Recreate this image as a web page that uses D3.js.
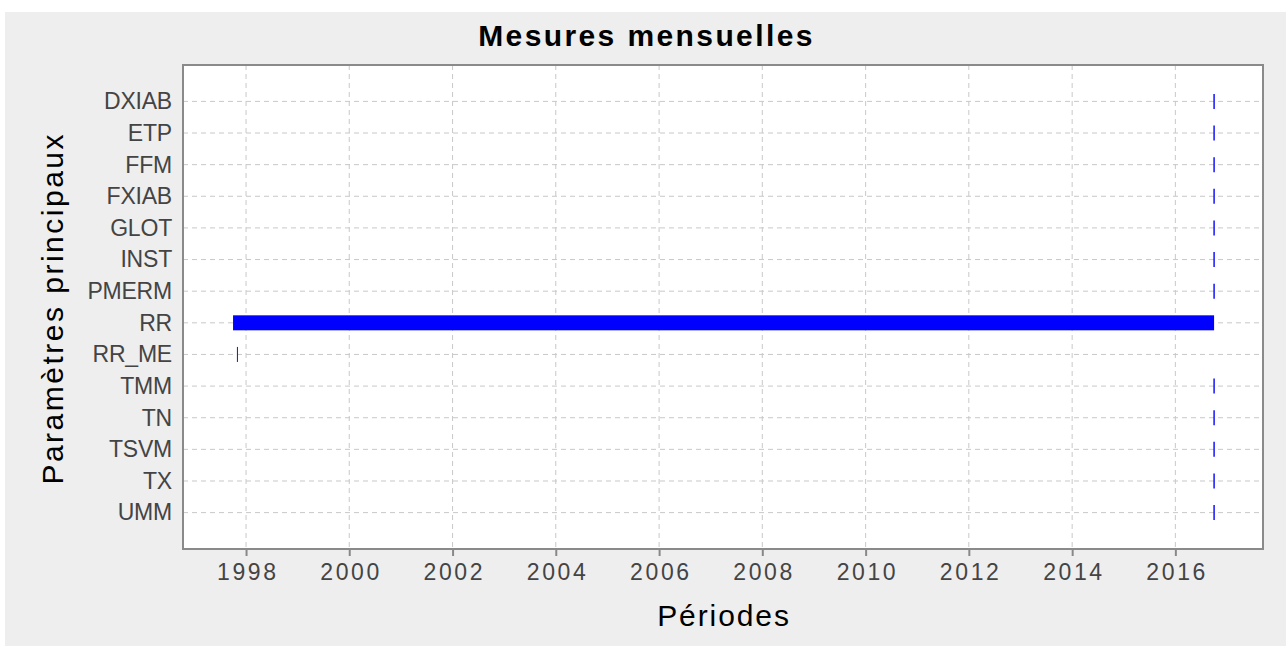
<!DOCTYPE html>
<html>
<head>
<meta charset="utf-8">
<script src="https://cdn.jsdelivr.net/npm/d3@7"></script>
<style>
  body { margin: 0; background: #fff; }
  #container { width: 1286px; height: 646px; }
  text { font-family: "Liberation Sans", Arial, sans-serif; }
</style>
</head>
<body>
<div id="container"></div>
<script>
// data
const params = ["DXIAB","ETP","FFM","FXIAB","GLOT","INST","PMERM","RR","RR_ME","TMM","TN","TSVM","TX","UMM"];
const starts = ["2016-10","2016-10","2016-10","2016-10","2016-10","2016-10","2016-10","1997-10","1997-11","2016-10","2016-10","2016-10","2016-10","2016-10"];
const ends   = ["2016-10","2016-10","2016-10","2016-10","2016-10","2016-10","2016-10","2016-10","1997-11","2016-10","2016-10","2016-10","2016-10","2016-10"];
const tickYears = [1998,2000,2002,2004,2006,2008,2010,2012,2014,2016];
const xDomain = ["1996-10-12","2017-09-12"];

document.addEventListener("DOMContentLoaded",() => {
  makeChart();
});

function makeChart(){
  const w = 1286;
  const h = 646;
  const left = 183, right = 1263, top = 65, bottom = 549;
  const parse = d3.timeParse("%Y-%m");
  const parseDay = d3.timeParse("%Y-%m-%d");

  const dataset = params.map((p,i) => ({name: p, start: parse(starts[i]), end: parse(ends[i])}));

  const xScale = d3.scaleTime()
                   .domain(xDomain.map(parseDay))
                   .range([left,right]);

  const yScale = d3.scalePoint()
                   .domain(params)
                   .range([top,bottom])
                   .padding(1.15);

  let svg = d3.select("#container")
              .append("svg")
              .attr("width",w)
              .attr("height",h);

  svg.append("rect")
     .attr("x",5).attr("y",12)
     .attr("width",w - 5).attr("height",h - 12)
     .attr("fill","#eeeeee");

  svg.append("rect")
     .attr("x",left).attr("y",top)
     .attr("width",right - left).attr("height",bottom - top)
     .attr("fill","#ffffff");

  // grid
  const tickDates = tickYears.map((y) => new Date(y,0,1));
  svg.append("g")
     .selectAll("line")
     .data(tickDates)
     .enter()
     .append("line")
     .attr("x1",(d) => xScale(d)).attr("x2",(d) => xScale(d))
     .attr("y1",top).attr("y2",bottom)
     .attr("stroke","#c8c8c8")
     .attr("stroke-width",1)
     .attr("stroke-dasharray","5,4");

  svg.append("g")
     .selectAll("line")
     .data(params)
     .enter()
     .append("line")
     .attr("x1",left).attr("x2",right)
     .attr("y1",(d) => yScale(d)).attr("y2",(d) => yScale(d))
     .attr("stroke","#c8c8c8")
     .attr("stroke-width",1)
     .attr("stroke-dasharray","5,4");

  // bars
  const barH = 15;
  svg.append("g")
     .selectAll("rect")
     .data(dataset.filter((d) => d.end > d.start))
     .enter()
     .append("rect")
     .attr("x",(d) => xScale(d.start))
     .attr("y",(d) => yScale(d.name) - barH / 2)
     .attr("width",(d) => xScale(d.end) - xScale(d.start))
     .attr("height",barH)
     .attr("fill","#0000ff");

  svg.append("g")
     .selectAll("line")
     .data(dataset.filter((d) => +d.end === +d.start))
     .enter()
     .append("line")
     .attr("x1",(d) => xScale(d.start)).attr("x2",(d) => xScale(d.start))
     .attr("y1",(d) => yScale(d.name) - barH / 2)
     .attr("y2",(d) => yScale(d.name) + barH / 2)
     .attr("stroke",(d) => d.name === "RR_ME" ? "#1a1a9a" : "#0000ff")
     .attr("stroke-width",(d) => d.name === "RR_ME" ? 1 : 1.4);

  // axes
  const xAxis = d3.axisBottom(xScale)
                  .tickValues(tickDates)
                  .tickFormat(d3.timeFormat("%Y"))
                  .tickSize(7)
                  .tickPadding(8);
  const gx = svg.append("g")
                .attr("id","x-axis")
                .attr("transform","translate(0," + bottom + ")")
                .call(xAxis);
  gx.select(".domain").remove();
  gx.selectAll("line").attr("stroke","#888").attr("stroke-width",2);
  gx.selectAll("text")
    .attr("fill","#444")
    .attr("dx","1.3px")
    .style("font-size","23px")
    .style("letter-spacing","2.6px")
    .attr("dy","0.71em");

  const yAxis = d3.axisLeft(yScale)
                  .tickSize(0)
                  .tickPadding(11);
  const gy = svg.append("g")
                .attr("id","y-axis")
                .attr("transform","translate(" + left + ",0)")
                .call(yAxis);
  gy.select(".domain").remove();
  gy.selectAll("text")
    .attr("fill","#444")
    .style("font-size","23px")
    .style("letter-spacing","-0.2px");

  // frame
  svg.append("rect")
     .attr("x",left).attr("y",top)
     .attr("width",right - left).attr("height",bottom - top)
     .attr("fill","none")
     .attr("stroke","#8a8a8a")
     .attr("stroke-width",2);

  // titles
  svg.append("text")
     .attr("x",646.5).attr("y",46)
     .attr("text-anchor","middle")
     .style("font-size","30px")
     .style("font-weight","bold")
     .style("letter-spacing","2.4px")
     .text("Mesures mensuelles");

  svg.append("text")
     .attr("x",(left + right) / 2 + 1).attr("y",626)
     .attr("text-anchor","middle")
     .style("font-size","30px")
     .style("letter-spacing","1.9px")
     .text("Périodes");

  svg.append("text")
     .attr("transform","translate(62.5," + ((top + bottom) / 2 + 1.3) + ") rotate(-90)")
     .attr("text-anchor","middle")
     .style("font-size","30px")
     .style("letter-spacing","2.5px")
     .text("Paramètres principaux");
}
</script>
</body>
</html>
